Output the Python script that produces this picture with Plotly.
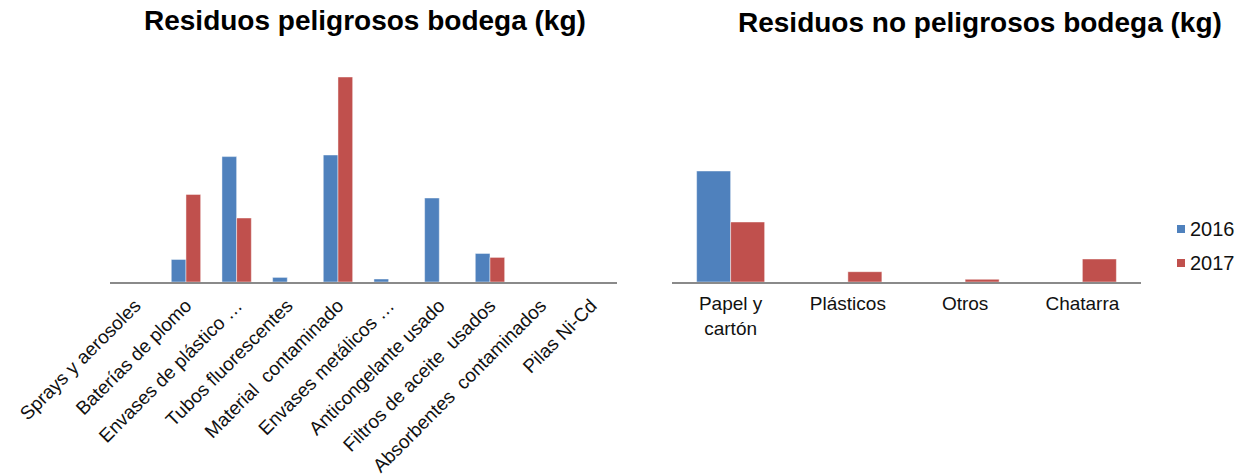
import plotly.graph_objects as go

# Hazardous waste stored in the warehouse (kg)
peligrosos_cat = [
    "Sprays y aerosoles",
    "Baterías de plomo",
    "Envases de plástico …",
    "Tubos fluorescentes",
    "Material\u00a0 contaminado",
    "Envases metálicos …",
    "Anticongelante usado",
    "Filtros de aceite\u00a0 usados",
    "Absorbentes\u00a0 contaminados",
    "Pilas Ni-Cd",
]
peligrosos_2016 = [0, 113, 627, 23, 635, 15, 420, 143, 0, 0]
peligrosos_2017 = [0, 438, 320, 0, 1025, 0, 0, 123, 0, 0]

# Non-hazardous waste stored in the warehouse (kg)
no_peligrosos_cat = ["Papel y<br>cartón", "Plásticos", "Otros", "Chatarra"]
no_peligrosos_2016 = [1110, 0, 0, 0]
no_peligrosos_2017 = [600, 103, 27, 230]

years = ["2016", "2017"]

BLUE = "#4F81BD"
RED = "#C0504D"
FONT = "Liberation Sans, Arial, Helvetica, sans-serif"
EDGE = dict(color="rgba(255,255,255,0.45)", width=1)
W, H = 1244, 475

fig = go.Figure()

fig.add_trace(go.Bar(x=peligrosos_cat, y=peligrosos_2016, name=years[0],
                     marker=dict(color=BLUE, line=EDGE), xaxis="x", yaxis="y"))
fig.add_trace(go.Bar(x=peligrosos_cat, y=peligrosos_2017, name=years[1],
                     marker=dict(color=RED, line=EDGE), xaxis="x", yaxis="y"))
fig.add_trace(go.Bar(x=no_peligrosos_cat, y=no_peligrosos_2016, name=years[0],
                     marker=dict(color=BLUE, line=EDGE), xaxis="x2", yaxis="y2"))
fig.add_trace(go.Bar(x=no_peligrosos_cat, y=no_peligrosos_2017, name=years[1],
                     marker=dict(color=RED, line=EDGE), xaxis="x2", yaxis="y2"))

axis_common = dict(showgrid=False, zeroline=False, ticks="", showline=True,
                   linecolor="#8A8A8A", linewidth=2, automargin=False)

# Compact legend on the right: small square swatch followed by the year
legend_shapes, legend_notes = [], []
for i, (year, color) in enumerate(zip(years, [BLUE, RED])):
    cy = 229 + 34 * i
    legend_shapes.append(dict(type="rect", xref="paper", yref="paper",
                              x0=1177 / W, x1=1185 / W,
                              y0=1 - (cy + 4) / H, y1=1 - (cy - 4) / H,
                              fillcolor=color, line=dict(width=0)))
    legend_notes.append(dict(text=year, xref="paper", yref="paper",
                             x=1188 / W, y=1 - cy / H, xanchor="left", yanchor="middle",
                             showarrow=False,
                             font=dict(family=FONT, size=20, color="#111111")))

fig.update_layout(
    width=W, height=H,
    margin=dict(l=0, r=0, t=0, b=0, autoexpand=False),
    paper_bgcolor="white", plot_bgcolor="white",
    barmode="group", bargap=0.42, bargroupgap=0,
    showlegend=False,
    font=dict(family=FONT, color="#111111"),
    xaxis=dict(domain=[0.0884, 0.4957], anchor="y", tickangle=-45, ticklabelstandoff=3,
               tickfont=dict(family=FONT, size=19, color="#111111"), **axis_common),
    yaxis=dict(domain=[0.4063, 0.8737], anchor="x", range=[0, 1110], visible=False),
    xaxis2=dict(domain=[0.5402, 0.9172], anchor="y2", tickangle=0, ticklabelstandoff=3,
                tickfont=dict(family=FONT, size=19, color="#111111"), **axis_common),
    yaxis2=dict(domain=[0.4063, 0.8737], anchor="x2", range=[0, 2220], visible=False),
    shapes=legend_shapes,
    annotations=[
        dict(text="<b>Residuos peligrosos bodega (kg)</b>", xref="paper", yref="paper",
             x=0.2934, y=0.956, xanchor="center", yanchor="middle", showarrow=False,
             font=dict(family=FONT, size=28, color="#000000")),
        dict(text="<b>Residuos no peligrosos bodega (kg)</b>", xref="paper", yref="paper",
             x=0.788, y=0.952, xanchor="center", yanchor="middle", showarrow=False,
             font=dict(family=FONT, size=28, color="#000000")),
    ] + legend_notes,
)

fig.write_html("out.html")
